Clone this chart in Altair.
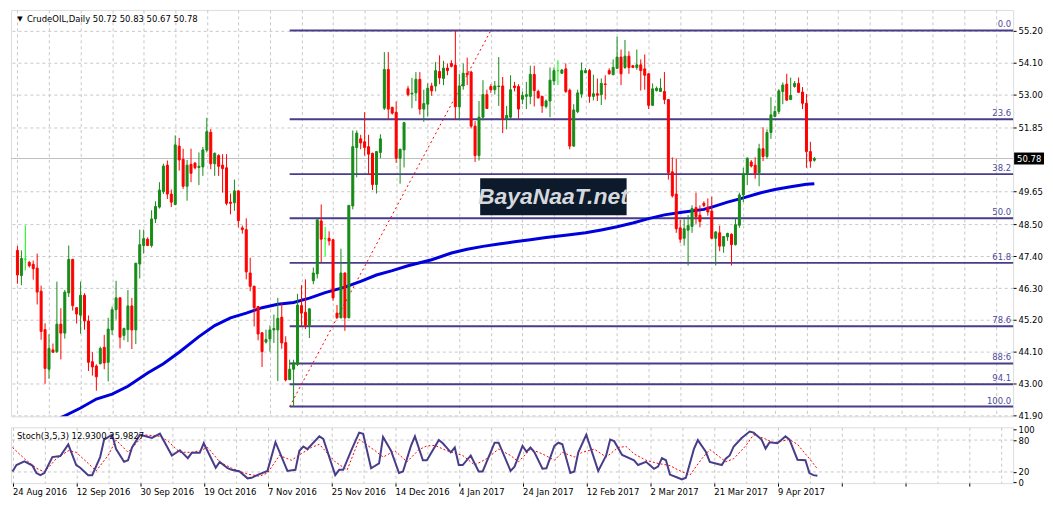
import altair as alt
import pandas as pd

# ---------------- values ----------------
OPEN = [47.60, 46.73, 47.30, 47.19, 47.12, 46.99, 46.19, 44.86, 43.49, 44.16,
        44.10, 45.05, 44.74, 46.13, 47.29, 45.62, 45.36, 46.05, 45.16, 43.75,
        43.60, 43.68, 44.25, 43.73, 44.85, 45.55, 45.96, 44.66, 44.86, 45.68,
        44.85, 47.13, 47.77, 47.99, 47.77, 48.69, 49.10, 49.63, 50.55, 49.55,
        49.19, 51.21, 50.75, 49.82, 50.58, 50.62, 50.47, 50.49, 51.07, 51.69,
        50.60, 50.88, 50.55, 50.46, 49.27, 49.25, 49.66, 48.38, 48.32, 46.82,
        46.36, 45.66, 44.75, 44.43, 44.54, 44.85, 44.85, 45.29, 44.41, 43.13,
        43.49, 43.66, 45.69, 45.46, 45.01, 46.55, 46.79, 48.62, 48.01, 48.02,
        47.97, 45.43, 45.27, 46.82, 45.27, 49.14, 51.16, 51.46, 51.36, 51.19,
        50.96, 49.88, 50.99, 52.52, 53.86, 52.55, 52.38, 50.79, 51.08, 53.19,
        53.01, 53.05, 53.52, 52.49, 52.66, 53.29, 53.29, 53.79, 53.55, 53.91,
        54.07, 54.01, 52.57, 53.29, 53.73, 53.77, 51.90, 50.88, 52.21, 52.99,
        53.27, 53.16, 53.27, 53.29, 52.16, 52.21, 53.29, 53.27, 52.83, 52.93,
        52.93, 53.69, 53.10, 52.93, 52.58, 52.77, 53.46, 53.82, 53.73, 53.88,
        53.14, 51.21, 52.40, 53.01, 53.75, 53.82, 52.93, 53.02, 52.99, 53.36,
        53.82, 53.68, 53.90, 54.29, 53.93, 54.32, 53.99, 53.93, 54.02, 53.88,
        53.71, 52.62, 53.13, 53.10, 53.10, 52.82, 50.32, 49.55, 48.38, 48.02,
        48.30, 48.43, 49.08, 48.82, 49.23, 49.10, 48.96, 48.02, 48.21, 47.75,
        48.07, 48.16, 47.80, 48.47, 49.52, 50.25, 50.66, 50.55, 50.29, 51.12,
        50.85, 51.68, 52.23, 52.41, 53.10, 53.35, 52.82, 53.27, 53.38, 53.08,
        52.69, 51.02, 50.72]
HIGH = [47.75, 47.60, 48.47, 47.23, 47.25, 47.49, 46.38, 45.08, 44.70, 44.38,
        46.52, 45.60, 46.23, 47.77, 47.31, 45.64, 46.52, 46.12, 45.35, 44.08,
        43.66, 44.27, 44.68, 45.27, 45.66, 46.55, 45.98, 44.93, 46.23, 45.96,
        47.16, 48.32, 48.32, 48.05, 48.99, 49.30, 49.96, 50.60, 50.71, 49.71,
        51.58, 51.49, 51.12, 50.73, 51.12, 50.66, 50.99, 51.18, 52.19, 51.80,
        50.99, 50.93, 50.93, 50.93, 49.57, 50.05, 49.68, 48.46, 48.71, 47.35,
        46.38, 45.68, 44.77, 44.86, 45.01, 45.38, 45.96, 45.77, 44.63, 43.82,
        43.82, 46.10, 46.40, 46.60, 45.60, 47.01, 48.66, 49.19, 48.41, 48.26,
        47.99, 45.71, 47.66, 46.84, 49.16, 51.75, 51.75, 51.60, 52.38, 51.60,
        50.98, 51.02, 51.62, 54.46, 54.46, 52.57, 52.75, 51.12, 52.05, 53.29,
        53.57, 53.77, 53.77, 53.16, 53.38, 53.40, 54.12, 54.35, 54.16, 54.07,
        54.18, 55.21, 53.71, 54.07, 54.27, 53.82, 52.07, 52.77, 53.49, 53.16,
        53.35, 53.46, 54.29, 53.60, 52.60, 53.66, 53.43, 53.35, 53.10, 53.43,
        53.99, 53.99, 53.16, 52.95, 52.82, 53.93, 53.93, 54.18, 53.88, 54.07,
        53.20, 52.66, 53.16, 54.10, 53.91, 53.88, 53.68, 53.55, 53.55, 53.66,
        53.90, 54.21, 54.99, 54.55, 54.88, 54.49, 54.01, 54.55, 54.21, 54.38,
        53.73, 53.38, 53.27, 53.55, 53.77, 52.84, 50.82, 50.77, 48.66, 48.68,
        48.82, 49.16, 49.60, 49.16, 49.30, 49.40, 49.46, 48.27, 48.46, 48.10,
        48.21, 48.19, 48.69, 49.60, 50.46, 50.82, 50.73, 50.82, 51.29, 51.86,
        51.79, 52.90, 52.60, 53.18, 53.41, 53.71, 53.58, 53.46, 53.58, 53.25,
        53.01, 51.36, 50.83]
LOW = [46.45, 46.40, 46.91, 47.01, 46.59, 45.73, 44.51, 42.99, 43.16, 44.05,
       44.05, 43.83, 44.55, 45.99, 45.52, 45.07, 44.72, 44.86, 43.43, 43.27,
       42.75, 43.66, 43.49, 43.07, 44.68, 45.21, 44.21, 44.49, 44.43, 44.19,
       44.36, 46.63, 47.49, 47.75, 47.70, 48.55, 49.05, 49.55, 49.38, 49.10,
       49.16, 50.36, 49.73, 49.32, 49.96, 50.41, 49.86, 50.18, 50.99, 50.41,
       50.18, 50.18, 49.60, 49.16, 48.85, 48.97, 48.40, 48.18, 46.60, 46.19,
       44.97, 44.49, 43.57, 44.38, 44.10, 44.40, 43.08, 44.20, 43.07, 43.12,
       42.20, 43.60, 44.99, 44.88, 44.57, 46.43, 46.63, 47.18, 47.40, 47.77,
       45.86, 45.27, 45.25, 44.82, 45.25, 49.02, 50.13, 51.10, 50.88, 50.21,
       49.69, 49.57, 50.79, 52.46, 52.12, 52.30, 50.63, 49.91, 50.47, 52.93,
       52.52, 52.77, 52.30, 52.05, 52.23, 52.95, 53.10, 53.35, 53.32, 53.66,
       53.93, 52.12, 52.12, 53.16, 53.32, 51.82, 50.66, 50.71, 52.10, 52.49,
       53.05, 52.99, 52.60, 51.66, 51.79, 52.16, 53.10, 52.16, 52.66, 52.49,
       52.66, 52.58, 52.85, 52.36, 52.51, 52.21, 53.32, 53.32, 53.71, 53.05,
       51.10, 51.19, 52.35, 52.88, 53.73, 52.71, 52.79, 52.77, 52.63, 52.82,
       53.68, 53.66, 53.88, 53.32, 53.88, 53.71, 53.91, 53.85, 53.13, 53.16,
       52.49, 52.60, 53.10, 53.08, 52.66, 50.05, 49.43, 48.21, 47.86, 47.77,
       47.08, 48.21, 48.52, 48.40, 49.10, 48.80, 47.99, 47.08, 47.57, 47.52,
       47.93, 47.08, 47.77, 48.38, 49.27, 49.86, 50.47, 50.08, 49.82, 50.69,
       50.77, 51.46, 52.21, 52.32, 52.66, 52.77, 52.80, 53.23, 53.05, 52.49,
       50.46, 50.46, 50.67]
CLOSE = [46.75, 47.32, 47.30, 47.07, 46.97, 46.16, 44.80, 43.52, 44.21, 44.08,
         45.05, 44.74, 46.16, 47.29, 45.69, 45.40, 46.05, 45.16, 43.73, 43.57,
         43.23, 44.21, 43.71, 44.88, 45.55, 45.96, 44.60, 44.90, 45.68, 44.85,
         47.16, 47.80, 48.01, 47.77, 48.69, 49.12, 49.69, 50.52, 49.55, 49.27,
         51.25, 50.73, 49.82, 50.55, 50.27, 50.46, 50.51, 51.08, 51.71, 50.60,
         50.96, 50.51, 50.43, 49.23, 49.23, 49.66, 48.63, 48.32, 46.86, 46.36,
         45.62, 44.71, 44.10, 44.52, 44.85, 44.90, 45.25, 44.40, 43.12, 43.49,
         43.71, 45.71, 45.43, 45.01, 45.58, 46.82, 48.66, 47.99, 48.01, 47.93,
         45.96, 45.27, 46.82, 45.27, 49.16, 51.19, 51.66, 51.32, 51.16, 50.93,
         49.88, 51.02, 51.46, 53.86, 52.49, 52.35, 50.79, 51.10, 52.02, 52.99,
         53.04, 53.52, 52.49, 52.68, 53.21, 53.12, 53.82, 53.57, 53.91, 53.82,
         53.97, 52.57, 53.29, 53.73, 53.68, 51.90, 50.88, 52.21, 52.99, 52.51,
         53.16, 53.29, 53.29, 52.16, 52.27, 53.16, 53.23, 52.49, 52.96, 52.99,
         53.69, 53.13, 52.88, 52.60, 52.77, 53.49, 53.82, 53.82, 53.84, 53.10,
         51.21, 52.46, 53.05, 53.82, 53.82, 52.93, 53.02, 52.97, 53.38, 53.34,
         53.71, 53.93, 54.29, 53.71, 54.32, 53.93, 53.93, 54.02, 53.82, 53.66,
         52.62, 53.19, 53.21, 53.21, 52.82, 50.29, 49.49, 48.35, 47.99, 48.35,
         48.46, 49.05, 48.77, 48.60, 49.16, 48.93, 48.02, 48.24, 47.75, 48.08,
         48.19, 47.80, 48.49, 49.52, 50.25, 50.79, 50.52, 50.27, 51.12, 50.85,
         51.68, 52.29, 52.41, 53.12, 53.32, 52.80, 52.96, 53.38, 53.07, 52.69,
         51.02, 50.69, 50.78]

# moving average (bar index, value)
MA_BARS = [8, 12, 16, 20, 24, 28, 33, 37, 41, 46, 50, 54, 58, 62, 66, 70, 74,
           78, 83, 87, 91, 95, 99, 105, 110, 114, 118, 122, 126, 130, 134,
           140, 144, 148, 152, 156, 160, 164, 168, 174, 176, 180, 184, 188,
           192, 196, 200, 202]
MA_VALUES = [41.62, 41.88, 42.15, 42.46, 42.63, 42.90, 43.36, 43.68, 44.08,
             44.62, 45.00, 45.27, 45.43, 45.62, 45.74, 45.80, 45.95, 46.14,
             46.33, 46.53, 46.75, 46.90, 47.07, 47.28, 47.51, 47.64, 47.74,
             47.82, 47.90, 47.97, 48.05, 48.14, 48.21, 48.31, 48.42, 48.55,
             48.70, 48.83, 48.91, 49.02, 49.10, 49.27, 49.42, 49.58, 49.71,
             49.80, 49.89, 49.91]

# stochastic %K and %D (bar index, value)
STOCH_K_BARS = [0, 1, 3, 5, 6, 7, 8, 10, 12, 14, 16, 17, 19, 20, 22, 23, 25, 26,
                28, 29, 30, 32, 35, 37, 40, 42, 44, 45, 47, 48, 51, 52, 54, 55,
                57, 59, 60, 62, 64, 66, 69, 71, 72, 73, 74, 77, 78, 81, 82, 83,
                85, 87, 88, 90, 92, 93, 95, 97, 98, 100, 101, 103, 104, 107,
                108, 110, 111, 112, 113, 115, 117, 118, 121, 122, 125, 126, 128,
                129, 130, 131, 133, 134, 136, 137, 138, 140, 141, 142, 144, 147,
                149, 150, 151, 153, 156, 157, 159, 161, 162, 163, 164, 165, 167,
                168, 169, 171, 172, 174, 175, 178, 179, 180, 181, 183, 185, 186,
                188, 189, 190, 192, 194, 195, 197, 199, 200, 201, 202]
STOCH_K_VALUES = [21, 33, 40, 32, 18, 14, 18, 48, 50, 72, 33, 28, 14, 14, 48, 81,
                  90, 63, 39, 42, 66, 90, 84, 92, 51, 61, 46, 56, 56, 74, 28, 39,
                  27, 24, 21, 8, 9, 16, 22, 76, 22, 24, 60, 68, 63, 87, 82, 14,
                  24, 24, 60, 94, 92, 27, 36, 86, 60, 18, 21, 69, 87, 42, 42, 80,
                  74, 57, 66, 33, 33, 51, 21, 21, 75, 75, 22, 30, 69, 58, 66, 57,
                  26, 27, 69, 75, 72, 18, 21, 57, 90, 22, 51, 81, 78, 52, 42, 33,
                  39, 26, 30, 46, 42, 15, 9, 6, 9, 63, 80, 58, 39, 33, 45, 51, 68,
                  84, 96, 94, 81, 64, 76, 74, 87, 81, 43, 42, 18, 14, 12.93]
STOCH_D_BARS = [0, 3, 6, 8, 11, 14, 16, 21, 24, 26, 29, 33, 37, 39, 42, 45, 47,
                49, 52, 55, 59, 62, 64, 67, 70, 72, 75, 77, 81, 84, 87, 91, 93,
                96, 99, 102, 104, 106, 109, 113, 116, 119, 122, 125, 127, 130,
                133, 136, 138, 141, 143, 146, 149, 152, 154, 156, 159, 162, 165,
                167, 170, 173, 175, 176, 179, 181, 184, 186, 189, 191, 195, 197,
                200, 202]
STOCH_D_VALUES = [66, 45, 27, 20, 45, 60, 57, 22, 51, 80, 57, 90, 87, 78, 57, 57,
                  60, 66, 39, 27, 16, 12, 18, 51, 42, 52, 66, 72, 39, 24, 81, 60,
                  48, 60, 39, 62, 69, 70, 60, 51, 33, 45, 63, 51, 39, 63, 54, 42,
                  57, 48, 57, 63, 48, 66, 68, 54, 42, 36, 32, 24, 14, 45, 62, 57,
                  39, 45, 69, 90, 82, 75, 81, 72, 45, 25.98]
STOCH_LAST = [12.9300, 25.9827]
STOCH_LEVELS = [20, 80]
STOCH_TICKS = [0, 20, 80, 100]

# Fibonacci retracement
FIB_LABELS = ["0.0", "23.6", "38.2", "50.0", "61.8", "78.6", "88:6", "94.1", "100.0"]
FIB_PRICES = [55.21, 52.14, 50.24, 48.71, 47.17, 44.98, 43.69, 42.97, 42.20]
FIB_ANCHOR_BARS = [69, 120]
FIB_ANCHOR_PRICES = [42.20, 55.21]

PRICE_TICKS = [55.20, 54.10, 53.00, 51.85, 49.65, 48.50, 47.40, 46.30, 45.20,
               44.10, 43.00, 41.90]
LAST_PRICE = 50.78
DATE_LABELS = ["24 Aug 2016", "12 Sep 2016", "30 Sep 2016", "19 Oct 2016",
               "7 Nov 2016", "25 Nov 2016", "14 Dec 2016", "4 Jan 2017",
               "24 Jan 2017", "12 Feb 2017", "2 Mar 2017", "21 Mar 2017",
               "9 Apr 2017"]
DATE_STEP = 16
SYMBOL = "CrudeOIL,Daily"
WATERMARK = "BayaNaaT.net"

# ---------------- layout / style ----------------
W, H1, H2 = 1006, 408, 56
X_DOMAIN = [-0.375, 251.125]
Y_DOMAIN = [41.86, 55.92]
S_DOMAIN = [-1, 104]
FONT = "DejaVu Sans"
FS = 8.5
GREEN, RED, LIME = "#178c17", "#ff0000", "#00ff00"
GRID = "#c8c8c8"
FIB_COLOR = "#483d8b"
FIB_TEXT = "#4b4b9b"
MA_COLOR = "#0000dd"
K_COLOR = "#483d8b"

bars = list(range(len(OPEN)))
dirs = ["up" if c > o else ("down" if c < o else "doji") for o, c in zip(OPEN, CLOSE)]
candles = pd.DataFrame({"bar": bars, "open": OPEN, "high": HIGH, "low": LOW,
                        "close": CLOSE, "dir": dirs})
ma_df = pd.DataFrame({"bar": MA_BARS, "v": MA_VALUES})
fib_df = pd.DataFrame({"price": FIB_PRICES, "label": FIB_LABELS,
                       "start": [FIB_ANCHOR_BARS[0]] * len(FIB_PRICES)})
trend_df = pd.DataFrame({"x1": [FIB_ANCHOR_BARS[0]], "x2": [FIB_ANCHOR_BARS[1]],
                         "y1": [FIB_ANCHOR_PRICES[0]], "y2": [FIB_ANCHOR_PRICES[1]]})
last_df = pd.DataFrame({"price": [LAST_PRICE]})
one = pd.DataFrame({"a": [0]})
k_df = pd.DataFrame({"bar": STOCH_K_BARS, "v": STOCH_K_VALUES})
d_df = pd.DataFrame({"bar": STOCH_D_BARS, "v": STOCH_D_VALUES})
lvl_df = pd.DataFrame({"v": STOCH_LEVELS})

xs = alt.Scale(domain=X_DOMAIN, nice=False, zero=False)
ys = alt.Scale(domain=Y_DOMAIN, nice=False, zero=False)
ss = alt.Scale(domain=S_DOMAIN, nice=False, zero=False)
cs = alt.Scale(domain=["up", "down", "doji"], range=[GREEN, RED, LIME])
grid_vals = list(range(0, 252, 8))

x_axis_main = alt.Axis(values=grid_vals, labels=False, ticks=False, domain=False,
                       grid=True, gridDash=[3, 3], gridColor=GRID, title=None)
y_axis_main = alt.Axis(orient="right", values=PRICE_TICKS, format=".2f", grid=True,
                       gridDash=[3, 3], gridColor=GRID, tickSize=3, tickColor="black",
                       labelPadding=2, labelFont=FONT, labelFontSize=FS,
                       labelColor="black", domain=False, title=None,
                       labelOverlap=False, labelFlush=False)


def X(field):
    return alt.X(field, type="quantitative", scale=xs, axis=x_axis_main)


def Y(field):
    return alt.Y(field, type="quantitative", scale=ys, axis=y_axis_main)


last_line = alt.Chart(last_df).mark_rule(color="#c0c0c0", strokeWidth=1).encode(y=Y("price"))
fib_lines = alt.Chart(fib_df).mark_rule(color=FIB_COLOR, strokeWidth=2).encode(
    x=X("start"), x2=alt.value(W), y=Y("price"))
fib_text = alt.Chart(fib_df).mark_text(align="right", baseline="bottom", dx=-2, dy=-1,
                                       font=FONT, fontSize=FS, color=FIB_TEXT).encode(
    x=alt.value(W), y=Y("price"), text="label:N")
trend = alt.Chart(trend_df).mark_rule(color="red", strokeWidth=1, strokeDash=[2, 3]).encode(
    x=X("x1"), x2="x2:Q", y=Y("y1"), y2="y2:Q")
ma_line = alt.Chart(ma_df).mark_line(color=MA_COLOR, strokeWidth=3, clip=True).encode(
    x=X("bar"), y=Y("v"))
wicks = alt.Chart(candles).mark_rule(strokeWidth=1).encode(
    x=X("bar"), y=Y("low"), y2="high:Q",
    color=alt.Color("dir:N", scale=cs, legend=None))
bodies = alt.Chart(candles).mark_bar(size=2, strokeWidth=1).encode(
    x=X("bar"), y=Y("open"), y2="close:Q",
    fill=alt.Fill("dir:N", scale=cs, legend=None),
    stroke=alt.Stroke("dir:N", scale=cs, legend=None))

wm_box = alt.Chart(one).mark_rect(color="#0d1a2b").encode(
    x=alt.value(471), x2=alt.value(618), y=alt.value(169), y2=alt.value(206))
wm_text = alt.Chart(one).mark_text(font="Liberation Sans", fontSize=23, fontStyle="italic",
                                   fontWeight="bold", color="#d5d9de", align="center",
                                   baseline="middle").encode(
    x=alt.value(544), y=alt.value(188), text=alt.value(WATERMARK))

title_tri = alt.Chart(one).mark_text(font=FONT, fontSize=7, color="black").encode(
    x=alt.value(9), y=alt.value(9), text=alt.value("\u25bc"))
title_txt = alt.Chart(one).mark_text(font=FONT, fontSize=FS, color="black", align="left",
                                     baseline="middle").encode(
    x=alt.value(16), y=alt.value(9),
    text=alt.value(f"{SYMBOL}  {OPEN[-1]:.2f} {HIGH[-1]:.2f} {LOW[-1]:.2f} {CLOSE[-1]:.2f}"))

price_box = alt.Chart(last_df).mark_point(shape="M-1,-0.4H1V0.4H-1Z", size=900, filled=True,
                                          color="black", opacity=1).encode(
    x=alt.value(W + 16), y=Y("price"))
price_txt = alt.Chart(last_df).mark_text(font=FONT, fontSize=FS, color="white", align="left",
                                         baseline="middle").encode(
    x=alt.value(W + 4), y=Y("price"), text=alt.Text("price:Q", format=".2f"))

main = alt.layer(last_line, fib_lines, fib_text, trend, ma_line, wicks, bodies,
                 wm_box, wm_text, title_tri, title_txt, price_box, price_txt
                 ).properties(width=W, height=H1)

# ---------------- stochastic panel ----------------
label_array = "[" + ",".join("'" + s + "'" for s in DATE_LABELS) + "]"
label_expr = (f"datum.value % {DATE_STEP} === 0 && datum.value / {DATE_STEP} < {len(DATE_LABELS)}"
              f" ? {label_array}[datum.value / {DATE_STEP}] : ''")
x_axis_st = alt.Axis(values=grid_vals, labelExpr=label_expr, grid=True, gridDash=[3, 3],
                     gridColor=GRID, tickSize=3, tickColor="black",
                     tickOpacity={"condition": {"test": f"datum.value % {DATE_STEP} === 0",
                                                "value": 1}, "value": 0},
                     domain=False, labelAlign="left", labelPadding=1, labelFont=FONT,
                     labelFontSize=FS, labelColor="black", labelOverlap=False,
                     labelFlush=False, title=None)
y_axis_st = alt.Axis(orient="right", values=STOCH_TICKS, grid=False, tickSize=3,
                     tickColor="black", labelPadding=2, labelFont=FONT, labelFontSize=FS,
                     labelColor="black", domain=False, title=None, labelOverlap=False,
                     labelFlush=False)


def SX(field):
    return alt.X(field, type="quantitative", scale=xs, axis=x_axis_st)


def SY(field):
    return alt.Y(field, type="quantitative", scale=ss, axis=y_axis_st)


levels = alt.Chart(lvl_df).mark_rule(color=GRID, strokeDash=[3, 3], strokeWidth=1).encode(y=SY("v"))
d_line = alt.Chart(d_df).mark_line(color="red", strokeWidth=1, strokeDash=[2, 2]).encode(
    x=SX("bar"), y=SY("v"))
k_line = alt.Chart(k_df).mark_line(color=K_COLOR, strokeWidth=2).encode(
    x=SX("bar"), y=SY("v"))
st_title = alt.Chart(one).mark_text(font=FONT, fontSize=FS, color="black", align="left",
                                    baseline="middle").encode(
    x=alt.value(6), y=alt.value(9),
    text=alt.value(f"Stoch(3,5,3) {STOCH_LAST[0]:.4f} {STOCH_LAST[1]:.4f}"))

stoch = alt.layer(levels, d_line, k_line, st_title).properties(width=W, height=H2)

chart = alt.vconcat(main, stoch, spacing=4).properties(padding=0).configure_view(
    stroke="black", strokeWidth=1).configure(background="white")

chart.save("out.html", embed_options={"renderer": "svg", "actions": False})
